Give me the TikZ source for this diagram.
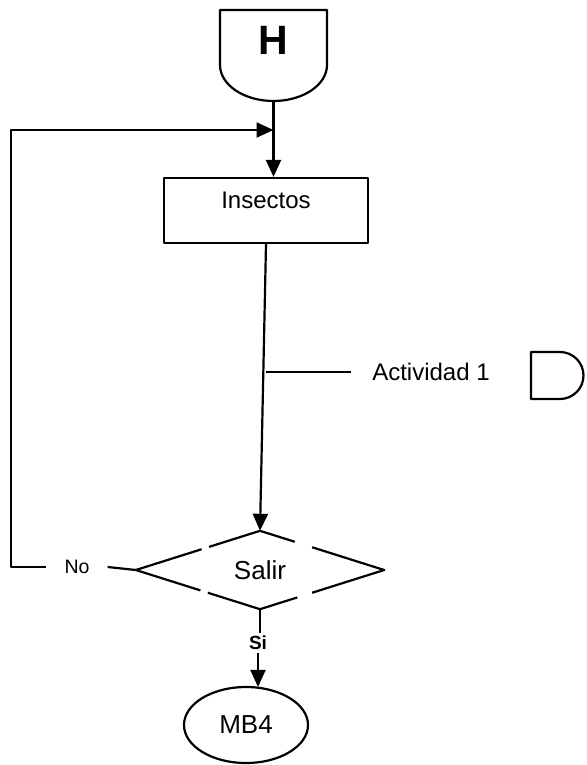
\documentclass[tikz,border=0pt]{standalone}
\usepackage{fontspec}
\setmainfont{Liberation Sans}
\usetikzlibrary{arrows.meta,shapes.geometric,calc}
\begin{document}
\begin{tikzpicture}[x=1pt,y=-1pt,
  line/.style={line width=2.2pt,line join=round},
  arr/.style={line width=2.2pt,line join=round,-{Triangle[length=17pt,width=15pt]}},
  lbl/.style={font=\fontsize{24}{26}\selectfont},
  big/.style={font=\fontsize{26}{28}\selectfont}]
\useasboundingbox (0,0) rectangle (586,765);

% H connector
\draw[line] (220,10) -- (220,65) arc[start angle=180,end angle=360,x radius=53.5pt,y radius=36pt] -- (327,10) -- cycle;
\node[font=\bfseries\fontsize{41}{41}\selectfont] (h) at (273.5,40) {H};
\coordinate (hbot) at (273.5,101);

% Insectos
\node[draw,line,minimum width=204pt,minimum height=65pt,inner sep=0pt,
      text height=20pt,text depth=25pt,lbl] (ins) at (266,210.5) {Insectos};
\draw[arr] (hbot) -- (hbot |- ins.north);

% Salir diamond
\node[diamond,minimum width=248pt,minimum height=78pt,inner sep=0pt,aspect=3.18,big] (dia) at (260,570) {Salir};
\draw[line] (dia.west) -- ($(dia.west)!0.53!(dia.north)$)
            ($(dia.west)!0.59!(dia.north)$) -- (dia.north) -- ($(dia.north)!0.28!(dia.east)$)
            ($(dia.north)!0.42!(dia.east)$) -- (dia.east) -- ($(dia.east)!0.58!(dia.south)$)
            ($(dia.east)!0.70!(dia.south)$) -- (dia.south) -- ($(dia.south)!0.42!(dia.west)$)
            ($(dia.south)!0.48!(dia.west)$) -- (dia.west);
\draw[arr] (ins.south) -- (dia.north);

% Actividad 1
\node[lbl,inner xsep=21pt] (act) at (431,372) {Actividad 1};
\draw[line] (ins.south |- act.west) -- (act.west);
\draw[line] (531,352) -- (560,352) arc[start angle=90,end angle=-90,radius=23.5pt] -- (531,399) -- cycle;

% No loop
\node[font=\fontsize{19.5}{21}\selectfont,inner xsep=18pt] (no) at (77,567) {No};
\draw[line] (dia.west) -- (no.east);
\coordinate (c1) at (11,567);
\coordinate (c2) at (11,130);
\coordinate (join) at (273.5,130);
\draw[arr] (no.west) -- (c1) -- (c2) -- (join);

% Si
\node[font=\bfseries\fontsize{19}{21}\selectfont,inner sep=3pt] (si) at (258,643) {Si};
\draw[line] (dia.south) -- (dia.south |- si.north);

% MB4
\node[draw,line,ellipse,minimum width=124pt,minimum height=76pt,inner sep=0pt,big] (mb) at (246,725) {MB4};
\draw[arr] (si.south) -- ($(si.south |- mb.north)+(0,1)$);
\end{tikzpicture}
\end{document}
